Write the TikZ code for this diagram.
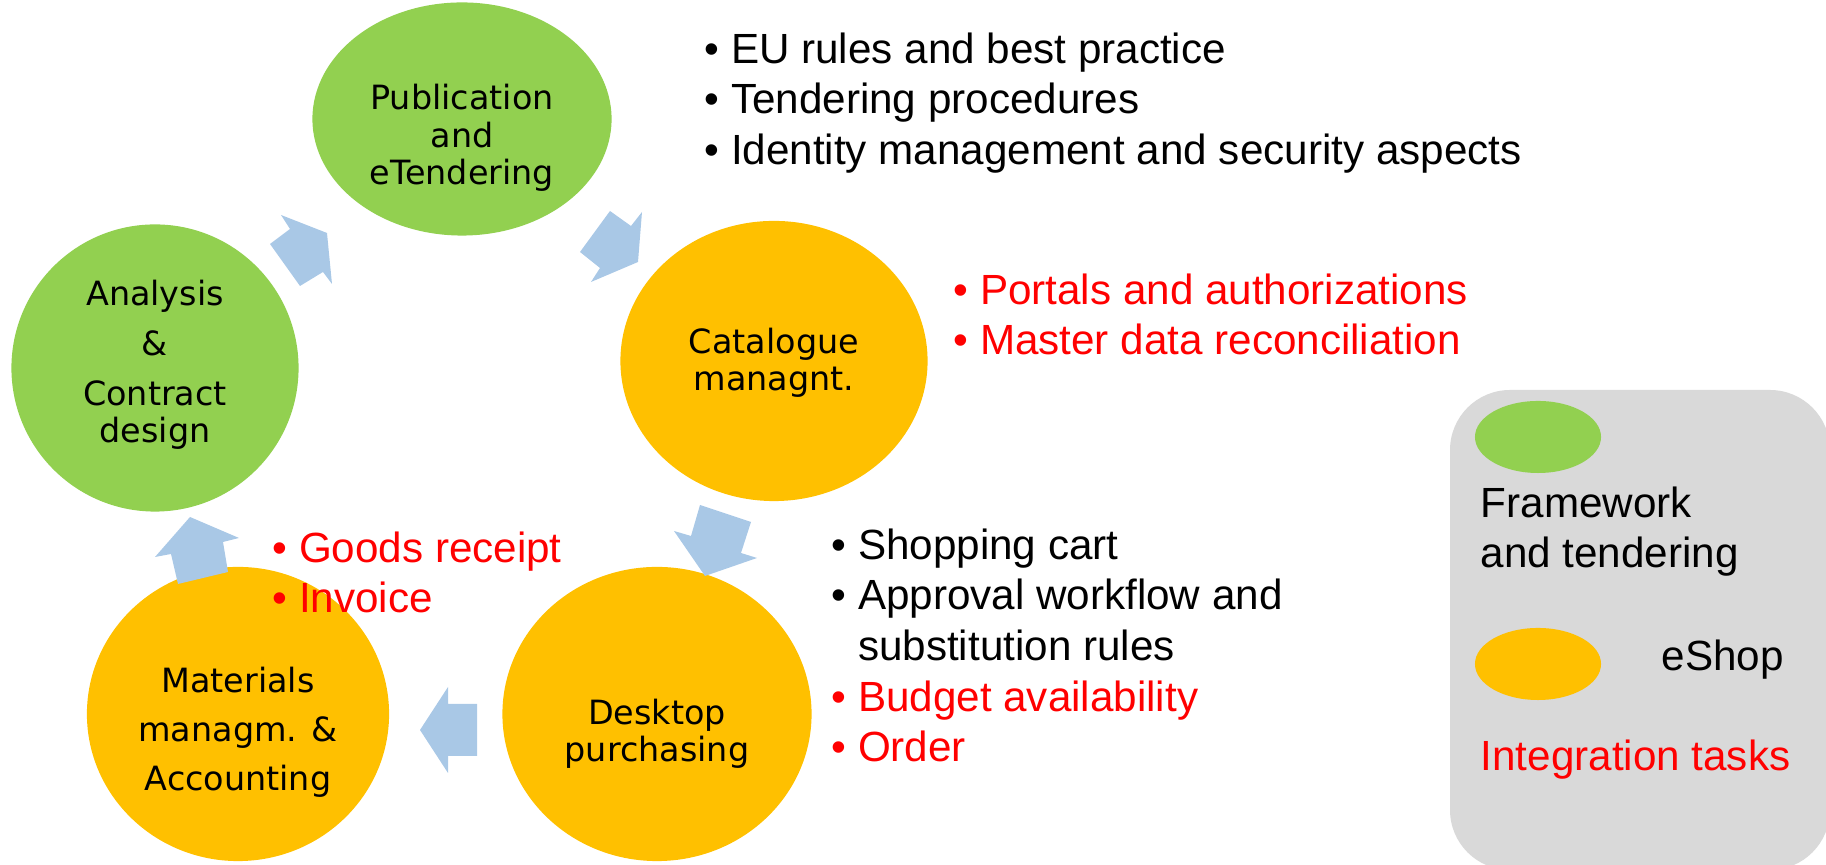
\documentclass[tikz,border=0pt]{standalone}
\usepackage{fontspec}
\setmainfont{Liberation Sans}
\newfontfamily\stagefont{DejaVu Sans}
\usetikzlibrary{shapes.geometric}

\definecolor{fwgreen}{HTML}{92D050}
\definecolor{shoporange}{HTML}{FFC000}
\definecolor{flowblue}{HTML}{A9C8E6}
\definecolor{keygray}{HTML}{D9D9D9}
\definecolor{taskred}{HTML}{FF0000}

\newcommand{\bul}{\makebox[7.5pt][l]{\textbullet}}
\newcommand{\nobul}{\hspace*{7.5pt}}

\tikzset{
  stage/.style = {ellipse, inner sep=0pt},
  stagetext/.style = {align=center, font=\stagefont\fontsize{9.5}{10.6}\selectfont},
  bullets/.style = {align=left, anchor=north west, inner sep=0pt, font=\fontsize{12}{14.4}\selectfont},
  keytext/.style = {inner sep=0pt, font=\fontsize{12}{14.4}\selectfont},
  flow/.style = {fill=flowblue},
}

\begin{document}
\begin{tikzpicture}[x=0.01cm, y=-0.01cm]
    \useasboundingbox (0,0) rectangle (1826,865);

    % the five stages
    \node[stage, fill=fwgreen, minimum width=2.99cm, minimum height=2.33cm] (pub) at (462,119) {};
    \node[stage, fill=fwgreen, minimum width=2.87cm, minimum height=2.87cm] (ana) at (155,368) {};
    \node[stage, fill=shoporange, minimum width=3.07cm, minimum height=2.80cm] (cat) at (774,361) {};
    \node[stage, fill=shoporange, minimum width=3.09cm, minimum height=2.94cm] (desk) at (657,714) {};
    \node[stage, fill=shoporange, minimum width=3.02cm, minimum height=2.94cm] (mat) at (238,714) {};

    \node[stagetext] (pubtxt) at (462,138) {Publication\\and\\eTendering};
    \node[stagetext] (anatxt) at (155,365) {Analysis\\[3.5pt]\&\\[3.5pt]Contract\\design};
    \node[stagetext] (cattxt) at (774,363) {Catalogue\\managnt.};
    \node[stagetext] (desktxt) at (657,734) {Desktop\\purchasing};
    \node[stagetext] (mattxt) at (238,732) {Materials\\[3.3pt]managm. \&\\[3.3pt]Accounting};

    % block arrows round the cycle
    \fill[flow] (281,215) -- (327,233) -- (332,284) -- (323,272) -- (300,286) -- (270,244) -- (290,229) -- cycle;
    \fill[flow] (610,211) -- (631,226) -- (642,212) -- (638,262) -- (591,282) -- (600,268) -- (580,252) -- cycle;
    \fill[flow] (700,505) -- (751,522) -- (741,553) -- (757,558) -- (705,576) -- (674,531) -- (691,536) -- cycle;
    \fill[flow] (448,687) -- (448,704) -- (477,704) -- (477,756) -- (448,756) -- (448,773) -- (420,730) -- cycle;
    \fill[flow] (190,517) -- (239,538) -- (223,542) -- (228,572) -- (178,584) -- (171,554) -- (155,557) -- cycle;

    % task lists
    \node[bullets] (rules) at (704,32) {\bul EU rules and best practice\\
        \bul Tendering procedures\\
        \bul Identity management and security aspects};
    \node[bullets, text=taskred] (portals) at (953,273) {\bul Portals and authorizations\\
        \bul Master data reconciliation};
    \node[bullets] (cart) at (831,528) {\bul Shopping cart\\
        \bul Approval workflow and\\
        \nobul substitution rules\\
        \textcolor{taskred}{\bul Budget availability}\\
        \textcolor{taskred}{\bul Order}};
    \node[bullets, text=taskred] (receipt) at (272,531) {\bul Goods receipt\\
        \bul Invoice};

    % legend
    \fill[keygray, rounded corners=0.6cm] (1450,390) rectangle (1830,870);
    \node[stage, fill=fwgreen, minimum width=1.26cm, minimum height=0.72cm] (keyfw) at (1538,437) {};
    \node[keytext, align=left, anchor=north west] (keyfwtxt) at (1480,486) {Framework\\and tendering};
    \node[stage, fill=shoporange, minimum width=1.26cm, minimum height=0.72cm] (keyshop) at (1538,664) {};
    \node[keytext, anchor=west] (keyshoptxt) at (1661,660) {eShop};
    \node[keytext, anchor=west, text=taskred] (keytasks) at (1480,760) {Integration tasks};
\end{tikzpicture}
\end{document}
